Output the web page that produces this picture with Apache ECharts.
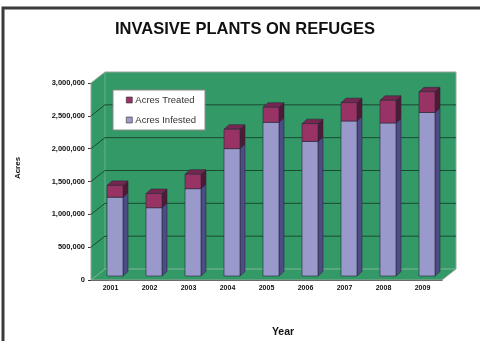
<!DOCTYPE html>
<html lang="en">
<head>
    <meta charset="UTF-8">
    <title>Invasive plants on refuges</title>
    <script src="https://cdn.jsdelivr.net/npm/echarts@6/dist/echarts.min.js"></script>
    <style>
        html, body { margin: 0; padding: 0; background: #fff; }
        #chart { width: 480px; height: 341px; }
    </style>
</head>
<body>
    <div id="chart"></div>
    <script>
        const years = ['2001', '2002', '2003', '2004', '2005', '2006', '2007', '2008', '2009'];
        const infested = [1200000, 1040000, 1330000, 1940000, 2340000, 2050000, 2360000, 2330000, 2490000];
        const treated = [180000, 215000, 220000, 295000, 230000, 270000, 280000, 345000, 315000];
        const yTicks = [0, 500000, 1000000, 1500000, 2000000, 2500000, 3000000];

        // fake 3d: wall depth, bar offset from front plane, bar depth
        const DX = 14, DY = -11;
        const BX = 4.5, BY = -4;
        const SX = 5, SY = -4.5;

        const font = '"Liberation Sans", Arial, sans-serif';

        const wallItem = (params, api) => {
            const cs = params.coordSys;
            const x = cs.x, y = cs.y, w = cs.width, h = cs.height;
            const children = [{
                type: 'polygon',
                shape: { points: [[x, y], [x + DX, y + DY], [x + w + DX, y + DY], [x + w + DX, y + h + DY], [x + w, y + h], [x, y + h]] },
                style: { fill: '#339966', stroke: '#9aa59f', lineWidth: 1 }
            }, {
                type: 'polyline',
                shape: { points: [[x, y + h], [x + DX, y + h + DY], [x + w + DX, y + h + DY]] },
                style: { stroke: '#7fb89a', lineWidth: 1, fill: null }
            }, {
                type: 'line',
                shape: { x1: x + DX, y1: y + DY, x2: x + DX, y2: y + h + DY },
                style: { stroke: '#6fae8c', lineWidth: 1 }
            }];
            yTicks.forEach(v => {
                if (v === 0 || v === yTicks[yTicks.length - 1]) return;
                const yv = api.coord([0, v])[1];
                children.push({
                    type: 'polyline',
                    shape: { points: [[x, yv], [x + DX, yv + DY], [x + w + DX, yv + DY]] },
                    style: { stroke: '#1a4a33', lineWidth: 1, fill: null }
                });
            });
            return { type: 'group', children: children };
        };

        const barItem = (front, top, side) => (params, api) => {
            const i = api.value(0);
            const lo = api.value(1), hi = api.value(2);
            const bw = api.size([1, 0])[0] * 0.41;
            const b = api.coord([i, lo]), t = api.coord([i, hi]);
            const x0 = b[0] - bw / 2 + BX, x1 = x0 + bw;
            const yb = b[1] + BY, yt = t[1] + BY;
            const edge = { stroke: '#2a2a3a', lineWidth: 0.6 };
            return {
                type: 'group',
                children: [{
                    type: 'polygon',
                    shape: { points: [[x1, yt], [x1 + SX, yt + SY], [x1 + SX, yb + SY], [x1, yb]] },
                    style: Object.assign({ fill: side }, edge)
                }, {
                    type: 'polygon',
                    shape: { points: [[x0, yt], [x0 + SX, yt + SY], [x1 + SX, yt + SY], [x1, yt]] },
                    style: Object.assign({ fill: top }, edge)
                }, {
                    type: 'rect',
                    shape: { x: x0, y: yt, width: bw, height: yb - yt },
                    style: Object.assign({ fill: front }, edge)
                }]
            };
        };

        const infestedData = years.map((y, i) => [i, 0, infested[i]]);
        const treatedData = years.map((y, i) => [i, infested[i], infested[i] + treated[i]]);

        const chart = echarts.init(document.getElementById('chart'));

        const option = {
            animation: false,
            backgroundColor: '#fff',
            title: {
                text: 'INVASIVE PLANTS ON REFUGES',
                left: 115,
                top: 21,
                padding: 0,
                textStyle: { fontFamily: font, fontSize: 16.5, fontWeight: 'bold', color: '#111' }
            },
            legend: {
                data: ['Acres Treated', 'Acres Infested'],
                orient: 'vertical',
                left: 113,
                top: 90,
                padding: [5, 9, 5, 13],
                itemGap: 10,
                itemWidth: 6,
                itemHeight: 6,
                icon: 'rect',
                backgroundColor: '#fff',
                borderColor: '#8a8a8a',
                borderWidth: 1,
                borderRadius: 0,
                itemStyle: { borderColor: '#333', borderWidth: 0.6 },
                textStyle: { fontFamily: font, fontSize: 9.5, color: '#333', padding: [0, 0, 0, -2] }
            },
            grid: { left: 91, right: 38, top: 83, bottom: 61 },
            xAxis: {
                type: 'category',
                data: years,
                axisLine: { lineStyle: { color: '#333', width: 1 } },
                axisTick: { length: 4, lineStyle: { color: '#333' } },
                axisLabel: { margin: 5, fontFamily: font, fontSize: 7, fontWeight: 'bold', color: '#111' },
                splitLine: { show: false }
            },
            yAxis: {
                type: 'value',
                min: 0,
                max: 3000000,
                interval: 500000,
                axisLine: { show: true, lineStyle: { color: '#333', width: 1 } },
                axisTick: { show: true, length: 3, lineStyle: { color: '#333' } },
                axisLabel: {
                    margin: 6,
                    fontFamily: font, fontSize: 7.5, fontWeight: 'bold', color: '#111',
                    formatter: v => v.toLocaleString('en-US')
                },
                splitLine: { show: false }
            },
            graphic: [{
                type: 'rect',
                shape: { x: 3, y: 8, width: 500, height: 360 },
                style: { fill: null, stroke: '#3a3a3a', lineWidth: 3 },
                z: 100
            }, {
                type: 'text',
                x: 18, y: 168,
                rotation: Math.PI / 2,
                style: { text: 'Acres', fontFamily: font, fontSize: 8, fontWeight: 'bold', fill: '#111', align: 'center', verticalAlign: 'middle' }
            }, {
                type: 'text',
                x: 283, y: 332,
                style: { text: 'Year', fontFamily: font, fontSize: 10.5, fontWeight: 'bold', fill: '#111', align: 'center', verticalAlign: 'middle' }
            }],
            series: [{
                type: 'custom',
                renderItem: wallItem,
                data: [[0, 0]],
                clip: false,
                silent: true,
                z: 1
            }, {
                name: 'Acres Infested',
                type: 'custom',
                renderItem: barItem('#9999cc', '#8080b8', '#4d4d85'),
                itemStyle: { color: '#9999cc' },
                encode: { x: 0, y: [1, 2] },
                data: infestedData,
                clip: false,
                z: 2
            }, {
                name: 'Acres Treated',
                type: 'custom',
                renderItem: barItem('#993366', '#76274f', '#4f1a35'),
                itemStyle: { color: '#993366' },
                encode: { x: 0, y: [1, 2] },
                data: treatedData,
                clip: false,
                z: 3
            }]
        };

        chart.setOption(option);
    </script>
</body>
</html>
